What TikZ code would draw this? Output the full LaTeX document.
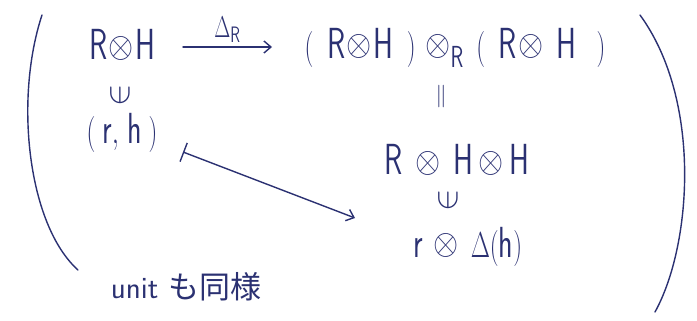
\documentclass[tikz,border=0pt]{standalone}
\usepackage{fontspec}
\usepackage{graphicx}
\newfontfamily\jpfont{Noto Sans CJK JP}
\usetikzlibrary{arrows.meta}
\definecolor{ink}{HTML}{2B3172}
\newcommand\hw[1]{\scalebox{1}[1.45]{#1}}
\newcommand\elt{\scalebox{1.35}{\rotatebox{90}{$\in$}}}
\newcommand\tens{\mathbin{\raisebox{0.15ex}{\scalebox{1.3}[1.0]{$\otimes$}}}}
\tikzset{
  txt/.style={text=ink, inner sep=2pt, font=\fontsize{30}{36}\selectfont},
  small/.style={text=ink, inner sep=1pt, font=\fontsize{22}{26}\selectfont},
  ink line/.style={draw=ink, line width=1.4pt, line cap=round},
  arr/.style={ink line, -{Straight Barb[length=7pt,width=12pt]}},
  maparr/.style={ink line, {Bar[width=20pt]}-{Straight Barb[length=7pt,width=12pt]}},
}
\begin{document}
\begin{tikzpicture}[x=1pt,y=-1pt]
\useasboundingbox (0,0) rectangle (697,321);
% nodes
\node[txt] (a) at (122,45) {\hw{$\mathsf{R}\!\tens\!\mathsf{H}$}};
\node[txt] (b) at (455,48) {\hw{$(\;\;\mathsf{R}\!\tens\!\mathsf{H}\;\;)\,\tens_{\mathsf{R}}\;(\;\;\mathsf{R}\!\tens\;\mathsf{H}\;\;\;)$}};
\node[txt] (ina) at (120,95) {\elt};
\node[txt] (rh) at (122,133) {\hw{$(\;\mathsf{r},\,\mathsf{h}\;)$}};
\node[txt] (eq) at (443,97) {\hw{\rotatebox{90}{$=$}}};
\node[txt] (c) at (457,160) {\hw{$\mathsf{R}\;\tens\;\mathsf{H}\tens\mathsf{H}$}};
\node[txt] (inc) at (448,200) {\elt};
\node[txt] (d) at (468,247) {\hw{$\mathsf{r}\,\tens\;\Delta(\mathsf{h})$}};
\node[small, font=\fontsize{31}{35}\selectfont] (u) at (186,287) {\sffamily unit {\jpfont も同様}};
% connectors
\draw[arr] ([xshift=61pt,yshift=-2pt]a.center) -- node[small, above=3pt] (lab) {\hw{$\Delta_{\mathsf{R}}$}} ([xshift=-183pt,yshift=1pt]b.center);
\draw[maparr] ([xshift=61pt,yshift=-19pt]rh.center) -- ([xshift=-113pt,yshift=29pt]d.center);
% parentheses
\draw[ink line] (42,15) .. controls (14,100) and (28,225) .. (78,270);
\draw[ink line] (640,15) .. controls (702,100) and (692,245) .. (655,312);
\end{tikzpicture}
\end{document}
